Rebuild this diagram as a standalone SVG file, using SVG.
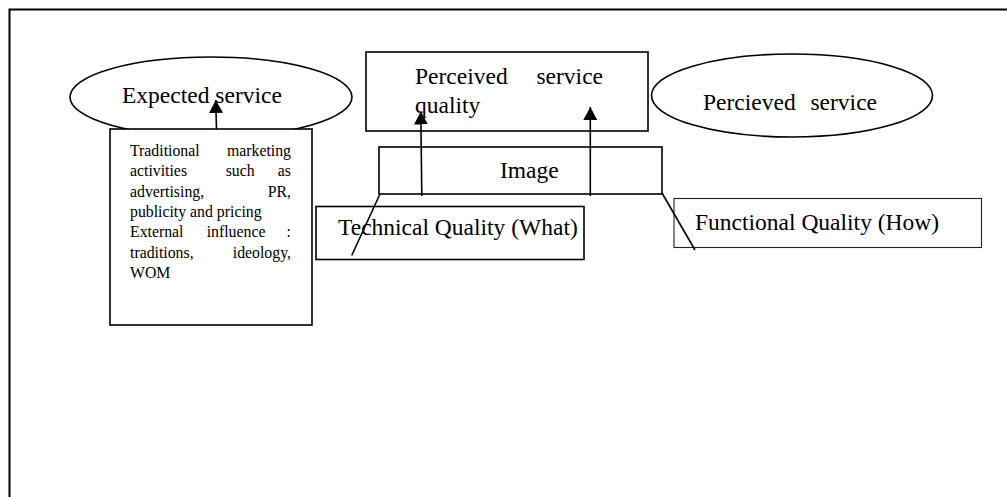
<svg xmlns="http://www.w3.org/2000/svg" width="1007" height="497" viewBox="0 0 1007 497">
  <style>
    .shape { fill: #ffffff; stroke: #000000; stroke-width: 1.6; }
    .thin { fill: none; stroke: #222222; stroke-width: 1.1; }
    .lbl { font-family: "Liberation Serif", "Times New Roman", serif; font-size: 23.5px; fill: #000000; }
    .small { font-family: "Liberation Serif", "Times New Roman", serif; font-size: 15.8px; fill: #000000; }
    .edge { fill: none; stroke: #000000; stroke-width: 1.6; }
  </style>
  <defs>
    <!-- filled triangular head, tip along +x so orient="auto" points it along the line -->
    <marker id="arrow" viewBox="0 0 13 14" refX="13" refY="7" markerWidth="13" markerHeight="14" markerUnits="userSpaceOnUse" orient="auto">
      <path d="M0,0 L13,7 L0,14 Z" fill="#000000"/>
    </marker>
  </defs>

  <rect width="1007" height="497" fill="#ffffff"/>

  <!-- page frame (right and bottom sides run off the canvas) -->
  <path d="M9.5,497 L9.5,9.5 L1007,9.5" fill="none" stroke="#000000" stroke-width="2"/>

  <g id="expected-service">
    <ellipse class="shape" cx="211" cy="97" rx="141" ry="40"/>
    <text class="lbl" x="122" y="103">Expected service</text>
  </g>

  <g id="marketing-activities">
    <rect class="shape" x="110" y="129" width="202" height="196"/>
    <text class="small" y="156"><tspan x="130">Traditional</tspan><tspan x="291" text-anchor="end">marketing</tspan></text>
    <text class="small" y="176.3"><tspan x="130">activities</tspan><tspan x="225.7">such</tspan><tspan x="291" text-anchor="end">as</tspan></text>
    <text class="small" y="196.6"><tspan x="130">advertising,</tspan><tspan x="291" text-anchor="end">PR,</tspan></text>
    <text class="small" x="130" y="216.9">publicity and pricing</text>
    <text class="small" y="237.2"><tspan x="130">External</tspan><tspan x="206.7">influence</tspan><tspan x="291" text-anchor="end">:</tspan></text>
    <text class="small" y="257.5"><tspan x="130">traditions,</tspan><tspan x="291" text-anchor="end">ideology,</tspan></text>
    <text class="small" x="130" y="277.8">WOM</text>
  </g>

  <g id="perceived-service-quality">
    <rect class="shape" x="366" y="52" width="282" height="79"/>
    <text class="lbl" y="83.5"><tspan x="415">Perceived</tspan><tspan x="603" text-anchor="end">service</tspan></text>
    <text class="lbl" x="415" y="113">quality</text>
  </g>

  <g id="perceived-service">
    <ellipse class="shape" cx="792" cy="95.5" rx="140.5" ry="41.5"/>
    <text class="lbl" y="110"><tspan x="703">Percieved</tspan><tspan x="877" text-anchor="end">service</tspan></text>
  </g>

  <g id="image">
    <rect class="shape" x="379" y="147" width="283" height="47"/>
    <text class="lbl" x="500" y="178">Image</text>
  </g>

  <g id="technical-quality">
    <rect class="shape" x="316" y="206.5" width="268" height="53"/>
    <text class="lbl" x="338" y="235">Technical Quality (What)</text>
  </g>

  <g id="functional-quality">
    <rect class="thin" x="674" y="198.5" width="307.5" height="49"/>
    <text class="lbl" x="695" y="230">Functional Quality (How)</text>
  </g>

  <g id="connectors">
    <line class="edge" x1="216.5" y1="129" x2="215.7" y2="100" marker-end="url(#arrow)"/>
    <line class="edge" x1="421.8" y1="196" x2="420.8" y2="111.5" marker-end="url(#arrow)"/>
    <line class="edge" x1="590.3" y1="196" x2="590.3" y2="107" marker-end="url(#arrow)"/>
    <line class="edge" x1="380" y1="194" x2="351.7" y2="255.5"/>
    <line class="edge" x1="662" y1="193" x2="695" y2="250"/>
  </g>
</svg>
